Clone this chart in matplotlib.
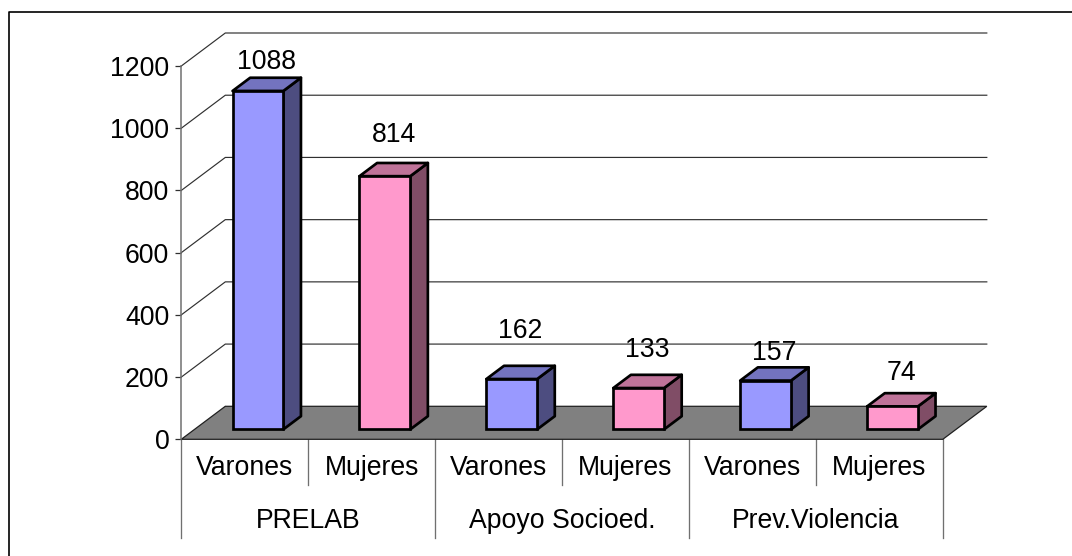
import matplotlib
matplotlib.use('Agg')
import matplotlib.pyplot as plt
from matplotlib.patches import Polygon

plt.rcParams['font.family'] = ['Liberation Sans', 'DejaVu Sans']

programs = ['PRELAB', 'Apoyo Socioed.', 'Prev.Violencia']
sexes = ['Varones', 'Mujeres']
values = [1088, 814, 162, 133, 157, 74]
y_ticks = [0, 200, 400, 600, 800, 1000, 1200]

# hand placed labels in the original, offset in px above the bar's back top edge
label_lift = [16, 28, 35, 25, 14, 20]

W, H = 1072, 556
DPI = 100
PX = 72 / DPI
FONT = 19.2

# front plane of the 3d box in pixels
left, right = 181.3, 942.8
top, base = 66.0, 439.3
val_per_px = 1200 / (base - top)
cat_px = (right - left) / 6

# depth of the box in data units
depth_x = 44 / cat_px
depth_y = 33 * val_per_px
bar_w = 0.4
near, far = 0.3, 0.7

fig = plt.figure(figsize=(W / DPI, H / DPI), dpi=DPI)
ax = fig.add_axes([left / W, (H - base) / H, (right - left) / W, (base - top) / H])
ax.set_xlim(0, 6)
ax.set_ylim(0, 1200)
ax.patch.set_visible(False)

for s in ['top', 'right', 'bottom']:
    ax.spines[s].set_visible(False)
ax.spines['left'].set_color('#707070')
ax.spines['left'].set_linewidth(1.1)
ax.set_xticks([])
ax.set_yticks(y_ticks)
ax.tick_params(axis='y', length=6 * PX, width=0.9, color='#303030', pad=6 * PX, labelsize=FONT)

# wall grid lines
for t in y_ticks[1:]:
    ax.plot([0, depth_x, 6 + depth_x], [t, t + depth_y, t + depth_y],
            color='#303030', lw=0.85, clip_on=False, zorder=1)

# floor
ax.add_patch(Polygon([(0, 0), (6, 0), (6 + depth_x, depth_y), (depth_x, depth_y)],
                     facecolor='#808080', edgecolor='#202020', lw=0.9, clip_on=False, zorder=2))

colors = [('#9999FF', '#7373BF', '#4D4D80'), ('#FF99CC', '#BF7399', '#804D66')]
EDGE = 2.7 * PX

for i, v in enumerate(values):
    front, top_c, side = colors[i % 2]
    x0 = i + 0.5 - bar_w / 2 + near * depth_x
    x1 = x0 + bar_w
    y0 = near * depth_y
    y1 = y0 + v
    dx = (far - near) * depth_x
    dy = (far - near) * depth_y
    ax.add_patch(Polygon([(x1, y0), (x1 + dx, y0 + dy), (x1 + dx, y1 + dy), (x1, y1)],
                         facecolor=side, edgecolor='black', lw=EDGE, clip_on=False,
                         joinstyle='round', zorder=3))
    ax.add_patch(Polygon([(x0, y1), (x1, y1), (x1 + dx, y1 + dy), (x0 + dx, y1 + dy)],
                         facecolor=top_c, edgecolor='black', lw=EDGE, clip_on=False,
                         joinstyle='round', zorder=3))
    ax.bar(x0, v, width=bar_w, bottom=y0, align='edge', color=front, edgecolor='black',
           linewidth=EDGE, clip_on=False, zorder=4)
    ax.annotate(str(v), xy=((x0 + x1 + dx) / 2, y1 + dy), xytext=(0, label_lift[i] * PX),
                textcoords='offset points', ha='center', va='center', fontsize=FONT, zorder=5,
                annotation_clip=False)

# category table below the axis
short_y = -46 * val_per_px
long_y = -98.5 * val_per_px
for i in range(7):
    low = long_y if i % 2 == 0 else short_y
    ax.plot([i, i], [0, low], color='#707070', lw=0.95, clip_on=False, zorder=1)

for i in range(6):
    ax.annotate(sexes[i % 2], xy=(i + 0.5, 0), xytext=(0, -28.5 * PX),
                textcoords='offset points', ha='center', va='center', fontsize=FONT,
                annotation_clip=False)
for i, name in enumerate(programs):
    ax.annotate(name, xy=(2 * i + 1, 0), xytext=(0, -81.5 * PX),
                textcoords='offset points', ha='center', va='center', fontsize=FONT,
                annotation_clip=False)

# outer frame only shows on the top and left of the crop
fig.add_artist(plt.Line2D([8.5 / W, 8.5 / W, 1], [0, (H - 11.5) / H, (H - 11.5) / H],
                          color='black', lw=1.2))

fig.savefig('out.png', dpi=DPI)
